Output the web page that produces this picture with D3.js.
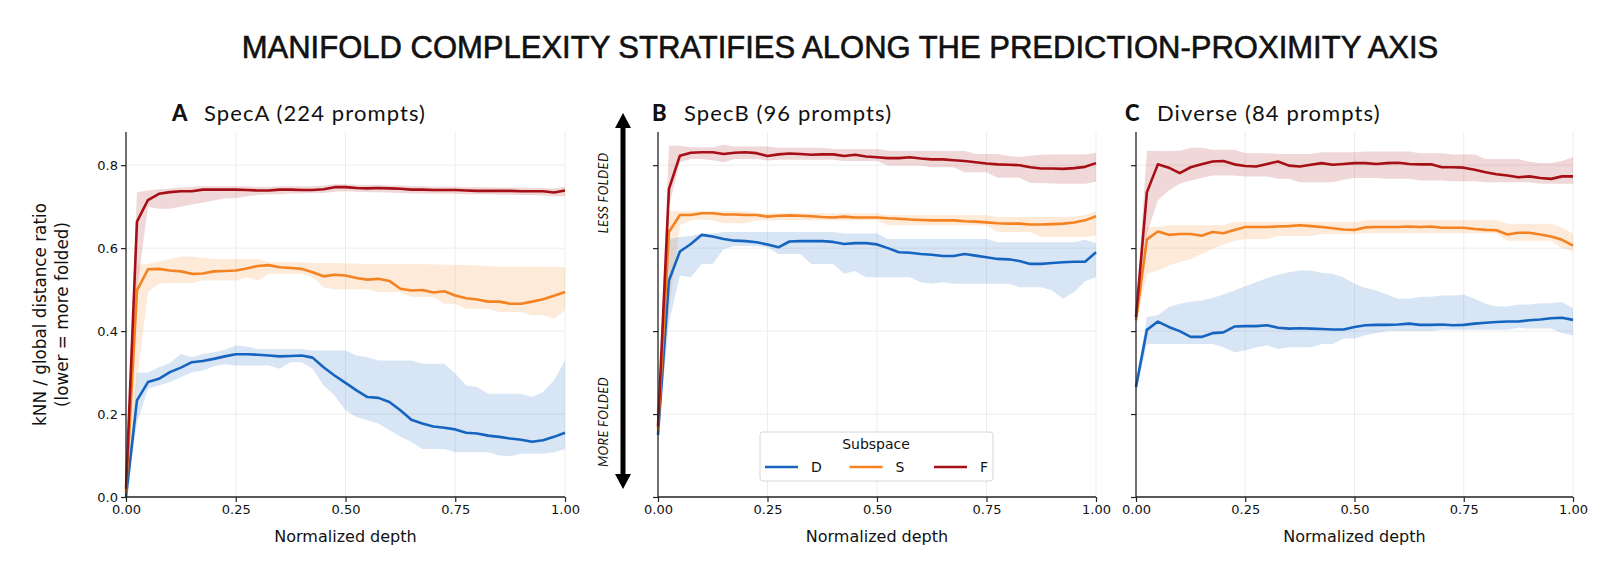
<!DOCTYPE html>
<html>
<head>
<meta charset="utf-8">
<script src="https://cdn.jsdelivr.net/npm/d3@7"></script>
<style>
  body { margin: 0; background: #fff; }
</style>
</head>
<body>
<svg id="chart"></svg>
<script>
// x grid (normalized depth), 41 layers
const depth = [0, 0.025, 0.05, 0.075, 0.1, 0.125, 0.15, 0.175, 0.2, 0.225, 0.25, 0.275, 0.3, 0.325, 0.35, 0.375, 0.4, 0.425, 0.45, 0.475, 0.5,
  0.525, 0.55, 0.575, 0.6, 0.625, 0.65, 0.675, 0.7, 0.725, 0.75, 0.775, 0.8, 0.825, 0.85, 0.875, 0.9, 0.925, 0.95, 0.975, 1];

const subspaces = ['D', 'S', 'F'];
const xTicks = [0, 0.25, 0.5, 0.75, 1];
const yTicks = [0, 0.2, 0.4, 0.6, 0.8];

// --- SpecA ---
const specA_D = [0.0, 0.233, 0.277, 0.285, 0.301, 0.312, 0.325, 0.328, 0.333, 0.339, 0.344, 0.344, 0.343, 0.341, 0.339, 0.340, 0.341, 0.336, 0.313, 0.293, 0.275,
  0.257, 0.241, 0.239, 0.229, 0.209, 0.186, 0.177, 0.170, 0.167, 0.163, 0.155, 0.153, 0.148, 0.145, 0.141, 0.138, 0.133, 0.137, 0.145, 0.155];
const specA_D_lo = [0.0, 0.177, 0.261, 0.269, 0.277, 0.289, 0.301, 0.305, 0.315, 0.320, 0.317, 0.317, 0.317, 0.317, 0.309, 0.325, 0.325, 0.309, 0.269, 0.245, 0.209,
  0.193, 0.185, 0.177, 0.161, 0.145, 0.133, 0.116, 0.116, 0.116, 0.108, 0.108, 0.108, 0.108, 0.100, 0.098, 0.104, 0.104, 0.104, 0.108, 0.116];
const specA_D_hi = [0.0, 0.300, 0.300, 0.313, 0.323, 0.345, 0.337, 0.345, 0.349, 0.355, 0.365, 0.363, 0.357, 0.357, 0.357, 0.357, 0.357, 0.353, 0.353, 0.353, 0.353,
  0.341, 0.337, 0.329, 0.329, 0.329, 0.329, 0.321, 0.321, 0.321, 0.297, 0.269, 0.265, 0.249, 0.249, 0.249, 0.249, 0.241, 0.253, 0.281, 0.329];
const specA_S = [0.01, 0.498, 0.549, 0.550, 0.546, 0.544, 0.538, 0.539, 0.544, 0.545, 0.546, 0.551, 0.557, 0.559, 0.554, 0.552, 0.550, 0.542, 0.532, 0.536, 0.534,
  0.528, 0.524, 0.526, 0.521, 0.502, 0.498, 0.499, 0.493, 0.496, 0.486, 0.479, 0.476, 0.471, 0.471, 0.466, 0.466, 0.471, 0.477, 0.485, 0.494];
const specA_S_lo = [0.0, 0.28, 0.494, 0.514, 0.516, 0.516, 0.516, 0.522, 0.522, 0.522, 0.522, 0.530, 0.522, 0.538, 0.538, 0.538, 0.538, 0.530, 0.506, 0.500, 0.500,
  0.500, 0.500, 0.494, 0.494, 0.494, 0.482, 0.482, 0.482, 0.466, 0.466, 0.454, 0.454, 0.454, 0.446, 0.446, 0.446, 0.438, 0.438, 0.430, 0.450];
const specA_S_hi = [0.02, 0.560, 0.562, 0.568, 0.574, 0.580, 0.580, 0.576, 0.574, 0.574, 0.574, 0.574, 0.574, 0.566, 0.566, 0.566, 0.566, 0.564, 0.564, 0.564, 0.563,
  0.563, 0.562, 0.562, 0.562, 0.562, 0.562, 0.561, 0.561, 0.560, 0.560, 0.559, 0.558, 0.557, 0.556, 0.556, 0.555, 0.555, 0.555, 0.555, 0.554];
const specA_F = [0.02, 0.664, 0.716, 0.731, 0.735, 0.737, 0.737, 0.741, 0.741, 0.741, 0.741, 0.740, 0.739, 0.739, 0.741, 0.741, 0.740, 0.740, 0.742, 0.747, 0.747,
  0.745, 0.744, 0.745, 0.744, 0.743, 0.741, 0.741, 0.740, 0.740, 0.740, 0.739, 0.738, 0.738, 0.738, 0.738, 0.737, 0.737, 0.737, 0.734, 0.739];
const specA_F_lo = [0.0, 0.50, 0.700, 0.695, 0.695, 0.700, 0.705, 0.710, 0.715, 0.720, 0.720, 0.725, 0.728, 0.730, 0.730, 0.732, 0.732, 0.733, 0.733, 0.736, 0.737,
  0.736, 0.735, 0.735, 0.734, 0.733, 0.732, 0.732, 0.731, 0.731, 0.731, 0.730, 0.730, 0.730, 0.729, 0.729, 0.728, 0.728, 0.727, 0.725, 0.725];
const specA_F_hi = [0.04, 0.735, 0.739, 0.742, 0.744, 0.746, 0.748, 0.749, 0.749, 0.749, 0.749, 0.749, 0.748, 0.748, 0.749, 0.749, 0.749, 0.749, 0.751, 0.754, 0.754,
  0.753, 0.752, 0.752, 0.751, 0.751, 0.750, 0.749, 0.748, 0.748, 0.748, 0.747, 0.747, 0.747, 0.746, 0.746, 0.746, 0.745, 0.745, 0.744, 0.748];

// --- SpecB ---
const specB_D = [0.15, 0.522, 0.592, 0.610, 0.632, 0.628, 0.622, 0.618, 0.617, 0.614, 0.609, 0.602, 0.616, 0.617, 0.617, 0.617, 0.615, 0.610, 0.612, 0.612, 0.609,
  0.600, 0.590, 0.589, 0.586, 0.584, 0.581, 0.581, 0.586, 0.582, 0.578, 0.574, 0.573, 0.569, 0.562, 0.562, 0.564, 0.566, 0.567, 0.567, 0.590];
const specB_D_lo = [0.14, 0.42, 0.534, 0.530, 0.562, 0.562, 0.598, 0.605, 0.605, 0.605, 0.602, 0.586, 0.586, 0.586, 0.562, 0.562, 0.562, 0.538, 0.545, 0.530, 0.530,
  0.530, 0.530, 0.530, 0.518, 0.514, 0.518, 0.514, 0.514, 0.514, 0.514, 0.514, 0.514, 0.506, 0.506, 0.506, 0.498, 0.478, 0.494, 0.520, 0.530];
const specB_D_hi = [0.16, 0.622, 0.627, 0.629, 0.635, 0.635, 0.639, 0.639, 0.639, 0.639, 0.639, 0.639, 0.639, 0.639, 0.639, 0.639, 0.639, 0.635, 0.635, 0.635, 0.635,
  0.622, 0.622, 0.622, 0.622, 0.622, 0.622, 0.622, 0.622, 0.622, 0.622, 0.614, 0.614, 0.614, 0.614, 0.614, 0.614, 0.614, 0.614, 0.620, 0.612];
const specB_S = [0.16, 0.639, 0.680, 0.680, 0.684, 0.684, 0.681, 0.681, 0.680, 0.680, 0.676, 0.678, 0.679, 0.678, 0.677, 0.675, 0.674, 0.676, 0.674, 0.674, 0.674,
  0.672, 0.671, 0.669, 0.668, 0.667, 0.667, 0.667, 0.665, 0.664, 0.662, 0.660, 0.659, 0.659, 0.657, 0.657, 0.658, 0.659, 0.662, 0.667, 0.677];
const specB_S_lo = [0.15, 0.45, 0.655, 0.667, 0.669, 0.667, 0.660, 0.660, 0.660, 0.667, 0.667, 0.667, 0.667, 0.667, 0.667, 0.667, 0.667, 0.667, 0.667, 0.667, 0.667,
  0.655, 0.655, 0.655, 0.655, 0.655, 0.655, 0.655, 0.655, 0.655, 0.655, 0.639, 0.639, 0.639, 0.639, 0.627, 0.627, 0.627, 0.627, 0.627, 0.630];
const specB_S_hi = [0.17, 0.690, 0.689, 0.689, 0.689, 0.689, 0.689, 0.689, 0.689, 0.684, 0.684, 0.684, 0.684, 0.684, 0.684, 0.684, 0.684, 0.684, 0.684, 0.684, 0.684,
  0.679, 0.679, 0.679, 0.679, 0.679, 0.679, 0.679, 0.679, 0.679, 0.679, 0.675, 0.675, 0.675, 0.675, 0.675, 0.675, 0.675, 0.676, 0.680, 0.688];
const specB_F = [0.17, 0.743, 0.823, 0.830, 0.831, 0.831, 0.827, 0.830, 0.831, 0.829, 0.822, 0.826, 0.828, 0.827, 0.825, 0.826, 0.826, 0.822, 0.825, 0.821, 0.819,
  0.817, 0.817, 0.819, 0.816, 0.814, 0.814, 0.812, 0.810, 0.807, 0.804, 0.802, 0.801, 0.800, 0.795, 0.792, 0.792, 0.791, 0.793, 0.796, 0.805];
const specB_F_lo = [0.15, 0.70, 0.807, 0.815, 0.815, 0.812, 0.807, 0.815, 0.815, 0.815, 0.811, 0.813, 0.813, 0.813, 0.813, 0.813, 0.813, 0.810, 0.810, 0.810, 0.810,
  0.799, 0.799, 0.799, 0.799, 0.795, 0.795, 0.795, 0.783, 0.783, 0.783, 0.770, 0.770, 0.770, 0.757, 0.757, 0.756, 0.755, 0.755, 0.755, 0.760];
const specB_F_hi = [0.19, 0.847, 0.847, 0.843, 0.843, 0.843, 0.849, 0.845, 0.845, 0.845, 0.845, 0.842, 0.842, 0.842, 0.842, 0.842, 0.839, 0.839, 0.839, 0.839, 0.839,
  0.835, 0.835, 0.835, 0.835, 0.835, 0.834, 0.834, 0.834, 0.827, 0.827, 0.827, 0.822, 0.820, 0.823, 0.825, 0.826, 0.826, 0.826, 0.826, 0.830];

// --- Diverse ---
const diverse_D = [0.265, 0.403, 0.423, 0.410, 0.400, 0.386, 0.386, 0.395, 0.397, 0.411, 0.412, 0.412, 0.414, 0.408, 0.406, 0.407, 0.406, 0.405, 0.404, 0.404, 0.410,
  0.414, 0.415, 0.415, 0.416, 0.418, 0.415, 0.415, 0.416, 0.414, 0.415, 0.418, 0.420, 0.422, 0.423, 0.423, 0.426, 0.428, 0.431, 0.432, 0.427];
const diverse_D_lo = [0.25, 0.369, 0.369, 0.369, 0.369, 0.369, 0.369, 0.369, 0.361, 0.349, 0.353, 0.361, 0.365, 0.357, 0.361, 0.361, 0.361, 0.369, 0.369, 0.382, 0.382,
  0.390, 0.395, 0.400, 0.400, 0.400, 0.400, 0.400, 0.403, 0.403, 0.403, 0.403, 0.403, 0.403, 0.403, 0.408, 0.406, 0.406, 0.406, 0.395, 0.390];
const diverse_D_hi = [0.28, 0.434, 0.438, 0.458, 0.466, 0.471, 0.474, 0.480, 0.488, 0.498, 0.508, 0.518, 0.528, 0.536, 0.542, 0.546, 0.546, 0.540, 0.538, 0.529, 0.514,
  0.504, 0.498, 0.488, 0.478, 0.478, 0.483, 0.483, 0.486, 0.486, 0.488, 0.478, 0.466, 0.459, 0.459, 0.464, 0.464, 0.467, 0.467, 0.470, 0.455];
const diverse_S = [0.426, 0.621, 0.640, 0.632, 0.634, 0.634, 0.630, 0.639, 0.636, 0.644, 0.651, 0.651, 0.651, 0.652, 0.653, 0.655, 0.653, 0.651, 0.648, 0.645, 0.644,
  0.650, 0.651, 0.651, 0.651, 0.652, 0.651, 0.652, 0.649, 0.649, 0.649, 0.646, 0.644, 0.643, 0.633, 0.637, 0.637, 0.633, 0.628, 0.620, 0.606];
const diverse_S_lo = [0.42, 0.538, 0.546, 0.558, 0.566, 0.574, 0.586, 0.598, 0.609, 0.617, 0.622, 0.622, 0.622, 0.629, 0.629, 0.629, 0.629, 0.634, 0.634, 0.634, 0.634,
  0.636, 0.636, 0.636, 0.636, 0.636, 0.636, 0.636, 0.636, 0.636, 0.636, 0.636, 0.636, 0.636, 0.618, 0.618, 0.618, 0.618, 0.618, 0.600, 0.592];
const diverse_S_hi = [0.435, 0.651, 0.651, 0.655, 0.655, 0.655, 0.655, 0.655, 0.655, 0.663, 0.663, 0.663, 0.663, 0.663, 0.663, 0.663, 0.663, 0.663, 0.663, 0.663, 0.663,
  0.667, 0.667, 0.667, 0.667, 0.667, 0.667, 0.667, 0.667, 0.667, 0.667, 0.667, 0.667, 0.667, 0.659, 0.659, 0.659, 0.659, 0.659, 0.650, 0.635];
const diverse_F = [0.434, 0.735, 0.802, 0.794, 0.781, 0.795, 0.802, 0.809, 0.810, 0.802, 0.798, 0.797, 0.803, 0.809, 0.799, 0.797, 0.801, 0.805, 0.801, 0.803, 0.805,
  0.805, 0.803, 0.805, 0.806, 0.803, 0.802, 0.802, 0.795, 0.795, 0.794, 0.789, 0.783, 0.778, 0.775, 0.771, 0.773, 0.769, 0.767, 0.773, 0.773];
const diverse_F_lo = [0.42, 0.635, 0.715, 0.739, 0.755, 0.763, 0.769, 0.775, 0.775, 0.775, 0.773, 0.773, 0.773, 0.767, 0.767, 0.759, 0.759, 0.759, 0.759, 0.765, 0.769,
  0.769, 0.769, 0.767, 0.767, 0.767, 0.763, 0.763, 0.763, 0.761, 0.761, 0.761, 0.759, 0.759, 0.759, 0.759, 0.759, 0.755, 0.755, 0.755, 0.755];
const diverse_F_hi = [0.45, 0.835, 0.834, 0.834, 0.835, 0.842, 0.842, 0.837, 0.837, 0.837, 0.829, 0.829, 0.829, 0.827, 0.827, 0.827, 0.827, 0.831, 0.831, 0.831, 0.831,
  0.833, 0.833, 0.833, 0.833, 0.833, 0.829, 0.829, 0.829, 0.826, 0.826, 0.826, 0.815, 0.815, 0.815, 0.815, 0.808, 0.805, 0.805, 0.810, 0.820];

// Layout
const width = 1600;
const height = 569;
const yTop = 132, yBottom = 497;
const colors = { D: '#1565c0', S: '#f58220', F: '#a50f15' };
const tickFont = 'DejaVu Sans, sans-serif';
const titleFont = 'Lato, "Open Sans", sans-serif';

const panels = [
  { letter: 'A', title: 'SpecA (224 prompts)', x0: 126, x1: 565, titleX: 172, yLabels: true,
    D: [specA_D, specA_D_lo, specA_D_hi], S: [specA_S, specA_S_lo, specA_S_hi], F: [specA_F, specA_F_lo, specA_F_hi] },
  { letter: 'B', title: 'SpecB (96 prompts)', x0: 658, x1: 1096, titleX: 652, yLabels: false,
    D: [specB_D, specB_D_lo, specB_D_hi], S: [specB_S, specB_S_lo, specB_S_hi], F: [specB_F, specB_F_lo, specB_F_hi] },
  { letter: 'C', title: 'Diverse (84 prompts)', x0: 1136, x1: 1573, titleX: 1125, yLabels: false,
    D: [diverse_D, diverse_D_lo, diverse_D_hi], S: [diverse_S, diverse_S_lo, diverse_S_hi], F: [diverse_F, diverse_F_lo, diverse_F_hi] }
];

const svg = d3.select('#chart')
  .attr('width', width)
  .attr('height', height)
  .style('font-family', tickFont);

svg.append('rect').attr('width', width).attr('height', height).attr('fill', '#fff');

// Suptitle
svg.append('text')
  .attr('x', 840)
  .attr('y', 58)
  .attr('text-anchor', 'middle')
  .style('font-family', 'Liberation Sans, Arial, sans-serif')
  .style('font-size', '31px')
  .attr('fill', '#111')
  .attr('stroke', '#111')
  .attr('stroke-width', 0.6)
  .text('MANIFOLD COMPLEXITY STRATIFIES ALONG THE PREDICTION-PROXIMITY AXIS');

const y = d3.scaleLinear().domain([0, 0.88]).range([yBottom, yTop]);

panels.forEach(p => {
  const x = d3.scaleLinear().domain([0, 1]).range([p.x0, p.x1]);
  const g = svg.append('g');

  // grid
  g.append('g').selectAll('line')
    .data(xTicks.slice(1))
    .join('line')
    .attr('x1', d => x(d)).attr('x2', d => x(d))
    .attr('y1', yTop).attr('y2', yBottom)
    .attr('stroke', '#ebebeb').attr('stroke-width', 0.9);
  g.append('g').selectAll('line')
    .data(yTicks.slice(1))
    .join('line')
    .attr('x1', p.x0).attr('x2', p.x1)
    .attr('y1', d => y(d)).attr('y2', d => y(d))
    .attr('stroke', '#ebebeb').attr('stroke-width', 0.9);

  // bands
  const area = d3.area()
    .x((d, i) => x(depth[i]))
    .y0(d => y(d[0]))
    .y1(d => y(d[1]));
  subspaces.forEach(s => {
    const [, lo, hi] = p[s];
    g.append('path')
      .datum(lo.map((v, i) => [v, hi[i]]))
      .attr('d', area)
      .attr('fill', colors[s])
      .attr('fill-opacity', 0.17);
  });

  // mean lines
  const line = d3.line()
    .x((d, i) => x(depth[i]))
    .y(d => y(d));
  subspaces.forEach(s => {
    g.append('path')
      .datum(p[s][0])
      .attr('d', line)
      .attr('fill', 'none')
      .attr('stroke', colors[s])
      .attr('stroke-width', 2.6)
      .attr('stroke-linejoin', 'round');
  });

  // axes
  const xAxis = g.append('g')
    .attr('transform', `translate(0, ${yBottom})`)
    .call(d3.axisBottom(x).tickValues(xTicks).tickFormat(d3.format('.2f')).tickSize(5).tickPadding(3));
  const yAxis = g.append('g')
    .attr('transform', `translate(${p.x0}, 0)`)
    .call(d3.axisLeft(y).tickValues(yTicks).tickFormat(p.yLabels ? d3.format('.1f') : () => '').tickSize(5).tickPadding(3));
  [xAxis, yAxis].forEach(a => {
    a.select('.domain').attr('stroke', '#222').attr('stroke-width', 1.3);
    a.selectAll('.tick line').attr('stroke', '#222').attr('stroke-width', 1.2);
    a.selectAll('.tick text').style('font-family', tickFont).style('font-size', '13px').attr('fill', '#111');
  });
  yAxis.select('.domain').attr('d', `M0,${yTop}V${yBottom}`);
  xAxis.select('.domain').attr('d', `M${p.x0},0H${p.x1}`);

  g.append('text')
    .attr('x', (p.x0 + p.x1) / 2)
    .attr('y', 542)
    .attr('text-anchor', 'middle')
    .style('font-size', '16px')
    .attr('fill', '#111')
    .text('Normalized depth');

  // panel title: bold letter + name
  g.append('text')
    .attr('x', p.titleX)
    .attr('y', 121)
    .style('font-family', titleFont)
    .style('font-size', '22px')
    .style('font-weight', 900)
    .attr('fill', '#111')
    .text(p.letter);
  g.append('text')
    .attr('x', p.titleX + 32)
    .attr('y', 121)
    .style('font-family', titleFont)
    .style('font-size', '22px')
    .style('letter-spacing', '1.1px')
    .attr('fill', '#111')
    .text(p.title);
});

// y label
const yLab = svg.append('text')
  .attr('transform', `translate(0, ${(yTop + yBottom) / 2}) rotate(-90)`)
  .attr('text-anchor', 'middle')
  .style('font-size', '16.8px')
  .attr('fill', '#111');
yLab.append('tspan').attr('x', 0).attr('y', 46).text('kNN / global distance ratio');
yLab.append('tspan').attr('x', 0).attr('y', 68).text('(lower = more folded)');

// folding arrow between panels A and B
const arrowX = 623, arrowTop = 113, arrowBottom = 489, head = 15, headW = 8;
svg.append('line')
  .attr('x1', arrowX).attr('x2', arrowX)
  .attr('y1', arrowTop + head - 1).attr('y2', arrowBottom - head + 1)
  .attr('stroke', '#000').attr('stroke-width', 5);
svg.append('path')
  .attr('d', `M${arrowX},${arrowTop} L${arrowX + headW},${arrowTop + head} L${arrowX - headW},${arrowTop + head} Z`)
  .attr('fill', '#000');
svg.append('path')
  .attr('d', `M${arrowX},${arrowBottom} L${arrowX + headW},${arrowBottom - head} L${arrowX - headW},${arrowBottom - head} Z`)
  .attr('fill', '#000');
[['LESS FOLDED', 193], ['MORE FOLDED', 422]].forEach(([txt, cy]) => {
  svg.append('text')
    .attr('transform', `translate(607.5, ${cy}) rotate(-90)`)
    .attr('text-anchor', 'middle')
    .style('font-family', titleFont)
    .style('font-style', 'italic')
    .style('font-size', '13px')
    .style('letter-spacing', '0.3px')
    .attr('fill', '#111')
    .text(txt);
});

// legend (inside panel B)
const legend = svg.append('g').attr('transform', 'translate(760, 432)');
legend.append('rect')
  .attr('width', 233).attr('height', 49)
  .attr('rx', 3)
  .attr('fill', '#fff').attr('fill-opacity', 0.85)
  .attr('stroke', '#d6d6d6').attr('stroke-width', 1);
legend.append('text')
  .attr('x', 116).attr('y', 17)
  .attr('text-anchor', 'middle')
  .style('font-size', '14px')
  .attr('fill', '#111')
  .text('Subspace');
const item = legend.selectAll('g.item')
  .data(subspaces)
  .join('g')
  .attr('transform', (d, i) => `translate(${5 + i * 84.5}, 35)`);
item.append('line')
  .attr('x1', 0).attr('x2', 33)
  .attr('stroke', d => colors[d]).attr('stroke-width', 2.6);
item.append('text')
  .attr('x', 46).attr('y', 5)
  .style('font-size', '14px')
  .attr('fill', '#111')
  .text(d => d);
</script>
</body>
</html>
